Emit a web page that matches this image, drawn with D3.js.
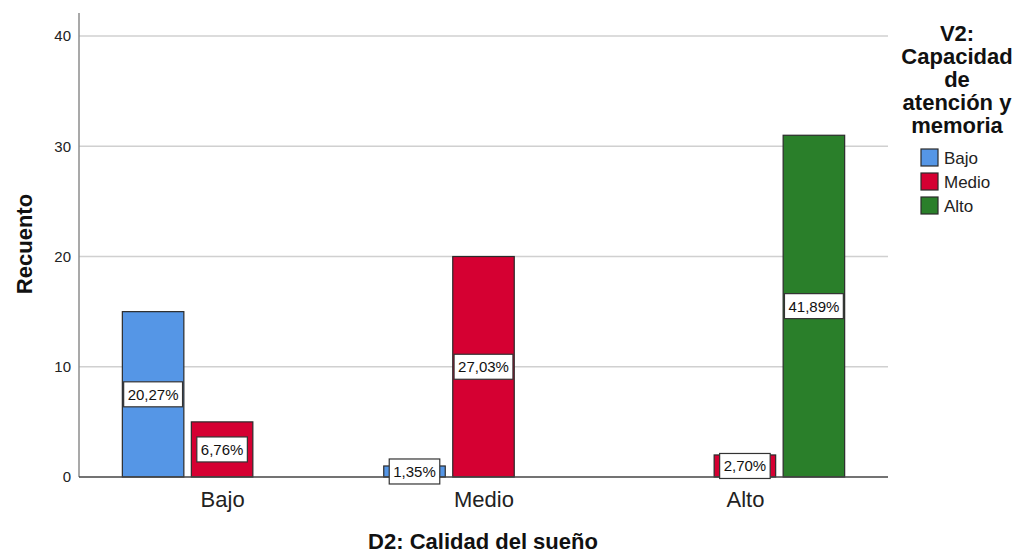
<!DOCTYPE html>
<html><head><meta charset="utf-8">
<script src="https://cdn.jsdelivr.net/npm/d3@7"></script>
<style>body{margin:0;background:#fff}svg{display:block;font-family:"Liberation Sans",Arial,sans-serif}</style>
</head><body><svg id="c" width="1017" height="554"></svg>
<script>
const categories = ["Bajo","Medio","Alto"];
const seriesNames = ["Bajo","Medio","Alto"];
const seriesColors = ["#5596E6","#D50032","#2A7F2A"];
const valuesBajo = [15, 1, 0];
const valuesMedio = [5, 20, 2];
const valuesAlto = [0, 0, 31];
const yTicks = [0,10,20,30,40];
const legendTitle = ["V2:","Capacidad","de","atención y","memoria"];
const xTitle = "D2: Calidad del sueño";
const yTitle = "Recuento";

const seriesValues = [valuesBajo, valuesMedio, valuesAlto];
const total = d3.sum(seriesValues.flat());
const svg = d3.select("#c");
const L=79, R=888, T=13, B=477;
const y = d3.scaleLinear().domain([0,42.09]).range([B,T]);
const x0 = d3.scalePoint().domain(categories).range([L,R]).padding(0.5474);
const x1 = d3.scaleBand().domain(seriesNames).range([-100.25,100.25]).paddingInner(0.094);

// gridlines
svg.append("g").selectAll("line").data(yTicks.filter(t=>t>0)).join("line")
  .attr("x1",L).attr("x2",R).attr("y1",d=>y(d)).attr("y2",d=>y(d))
  .attr("stroke","#d0d0d0").attr("stroke-width",1.5);

// y axis
const ya = svg.append("g").attr("transform",`translate(${L},0)`)
  .call(d3.axisLeft(y).tickValues(yTicks).tickSize(0).tickPadding(8));
ya.select(".domain").remove();
ya.selectAll("text").attr("font-size",15).attr("fill","#222").attr("font-family","Liberation Sans, Arial, sans-serif");
svg.append("line").attr("x1",L).attr("x2",L).attr("y1",T).attr("y2",B).attr("stroke","#8c8c8c").attr("stroke-width",1.5);

// bars
const bars = [];
categories.forEach((c,ci)=>{
  seriesNames.forEach((s,si)=>{
    const v = seriesValues[si][ci];
    if(v>0) bars.push({c,s,v,color:seriesColors[si]});
  });
});
svg.append("g").selectAll("rect").data(bars).join("rect")
  .attr("x",d=>x0(d.c)+x1(d.s)+0.5).attr("width",x1.bandwidth()-1)
  .attr("y",d=>y(d.v)).attr("height",d=>B-y(d.v))
  .attr("fill",d=>d.color).attr("stroke","#2b2b2b").attr("stroke-width",1.2);

// x axis line
svg.append("line").attr("x1",L).attr("x2",R).attr("y1",B).attr("y2",B).attr("stroke","#444").attr("stroke-width",1.5);

// category labels
const xa = svg.append("g").attr("transform",`translate(0,${B})`)
  .call(d3.axisBottom(x0).tickSize(0).tickPadding(0));
xa.select(".domain").remove();
xa.selectAll("text").attr("dy",null).attr("y",30).attr("font-size",22).attr("fill","#222").attr("font-family","Liberation Sans, Arial, sans-serif");

// percent labels
const fmt = v => (v/total*100).toFixed(2).replace(".",",")+"%";
const lg = svg.append("g").selectAll("g").data(bars).join("g")
  .attr("transform",d=>`translate(${x0(d.c)+x1(d.s)+x1.bandwidth()/2},${y(d.v/2)})`);
lg.append("rect").attr("fill","#fff").attr("stroke","#333").attr("stroke-width",1.2);
lg.append("text").attr("text-anchor","middle").attr("dy","0.36em").attr("font-size",15).attr("fill","#111").text(d=>fmt(d.v));
lg.each(function(){
  const g=d3.select(this); const w=g.select("text").node().getComputedTextLength();
  g.select("rect").attr("x",-w/2-4).attr("width",w+8).attr("y",-12.5).attr("height",25);
});

// axis titles
svg.append("text").attr("transform","translate(32,244) rotate(-90)").attr("text-anchor","middle")
  .attr("font-size",22).attr("font-weight","bold").attr("fill","#111").text(yTitle);
svg.append("text").attr("x",483).attr("y",549).attr("text-anchor","middle")
  .attr("font-size",22).attr("font-weight","bold").attr("fill","#111").text(xTitle);

// legend
const lt = svg.append("g");
lt.selectAll("text").data(legendTitle).join("text").attr("x",957).attr("y",(d,i)=>41+i*23)
  .attr("text-anchor","middle").attr("font-size",22).attr("font-weight","bold").attr("fill","#111").text(d=>d);
const li = svg.append("g").selectAll("g").data(seriesNames).join("g")
  .attr("transform",(d,i)=>`translate(921,${149+i*24})`);
li.append("rect").attr("width",17).attr("height",17).attr("fill",(d,i)=>seriesColors[i]).attr("stroke","#2b2b2b").attr("stroke-width",1.2);
li.append("text").attr("x",23).attr("y",15).attr("font-size",17).attr("fill","#222").text(d=>d);
</script></body></html>
